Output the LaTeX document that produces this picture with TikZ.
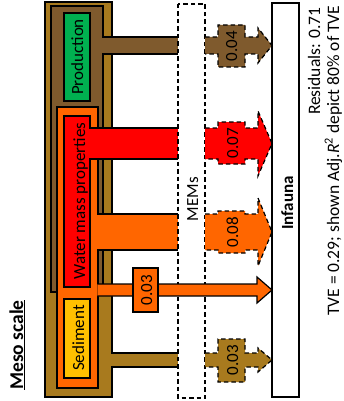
\documentclass[tikz,border=0pt]{standalone}
\usepackage{fontspec}
\setmainfont{Carlito}
\definecolor{lbrown}{RGB}{168,122,30}
\definecolor{dbrown}{RGB}{127,90,45}
\definecolor{pgreen}{RGB}{0,176,80}
\definecolor{porange}{RGB}{255,102,0}
\definecolor{pred}{RGB}{255,0,0}
\definecolor{pyellow}{RGB}{255,192,0}
\begin{document}
\begin{tikzpicture}[x=1pt,y=-1pt,line width=1.2pt,
  box/.style={draw=black,line width=1.2pt},
  lbl/.style={rotate=90,anchor=base,inner sep=0pt,font=\fontsize{17}{17}\selectfont},
  note/.style={rotate=90,anchor=base east,inner sep=0pt,font=\fontsize{17.5}{17.5}\selectfont},
  dashbox/.style={draw=black,line width=1.2pt,dash pattern=on 4.5pt off 3pt}]
\useasboundingbox (0,0) rectangle (344,401);
% nested boxes
\path[box,fill=lbrown] (45,2) rectangle (112,397);
\path[box,fill=dbrown] (51,6) rectangle (103,292);
\path[box,fill=pgreen] (64,13) rectangle (90,101);
\path[box,fill=porange] (57,107) rectangle (98,388);
\path[box,fill=pred] (64,116) rectangle (90,287);
\path[box,fill=pyellow] (64,299) rectangle (90,378);
% solid trunks
\fill[dbrown] (102.4,37) rectangle (178,54);
\draw (102.4,37) -- (178,37) (102.4,54) -- (178,54);
\fill[pred] (89.4,128) rectangle (178,159);
\draw (89.4,128) -- (178,128) (89.4,159) -- (178,159);
\fill[porange] (97.4,214) rectangle (178,250);
\draw (97.4,214) -- (178,214) (97.4,250) -- (178,250);
\fill[lbrown] (111.4,353) rectangle (178,367);
\draw (111.4,353) -- (178,353) (111.4,367) -- (178,367);
% MEMs box
\draw[dashbox] (178,4) rectangle (205,398);
% direct arrow
\filldraw[fill=porange] (97.4,284) -- (257,284) -- (257,277) -- (272,290) -- (257,303) -- (257,296) -- (97.4,296);
\path[box,fill=porange] (133,268) rectangle (158,312);
% dashed arrows
\filldraw[dashbox,fill=dbrown] (205,37) -- (218,37) -- (218,25) -- (245,25) -- (245,37) -- (258,37) -- (258,28) -- (272,45.5) -- (258,63) -- (258,54) -- (245,54) -- (245,67) -- (218,67) -- (218,54) -- (205,54);
\filldraw[dashbox,fill=pred] (205,128) -- (218,128) -- (218,122) -- (245,122) -- (245,128) -- (258,128) -- (258,111) -- (272,143.5) -- (258,176) -- (258,159) -- (245,159) -- (245,164) -- (218,164) -- (218,159) -- (205,159);
\filldraw[dashbox,fill=porange] (205,214) -- (218,214) -- (218,211) -- (245,211) -- (245,214) -- (258,214) -- (258,198) -- (272,232) -- (258,266) -- (258,250) -- (245,250) -- (245,253) -- (218,253) -- (218,250) -- (205,250);
\filldraw[dashbox,fill=lbrown] (205,353) -- (218,353) -- (218,339) -- (245,339) -- (245,353) -- (258,353) -- (258,348) -- (272,360) -- (258,372) -- (258,367) -- (245,367) -- (245,382) -- (218,382) -- (218,367) -- (205,367);
% Infauna
\path[box,fill=white] (272,3) rectangle (299,397);
% labels
\node[lbl] (prod) at (83,57) {Production};
\node[lbl] (wmp) at (85,201) {Water mass properties};
\node[lbl] (sed) at (84,338) {Sediment};
\node[lbl] (mems) at (198,199) {MEMs};
\node[lbl] (inf) at (293,203) {\textbf{Infauna}};
\node[lbl] (v1) at (237,46) {0.04};
\node[lbl] (v2) at (238,143) {0.07};
\node[lbl] (v3) at (238,232) {0.08};
\node[lbl] (v4) at (238,360) {0.03};
\node[lbl] (v5) at (152,290) {0.03};
\node[lbl,font=\fontsize{19.5}{19.5}\selectfont] (meso) at (23,345) {\textbf{\underline{Meso scale}}};
\node[note] (res) at (320,7) {Residuals: 0.71};
\node[note] (tve) at (339,5) {TVE = 0.29; shown Adj.{\itshape R}\textsuperscript{2} depict 80\% of TVE};
\end{tikzpicture}
\end{document}
